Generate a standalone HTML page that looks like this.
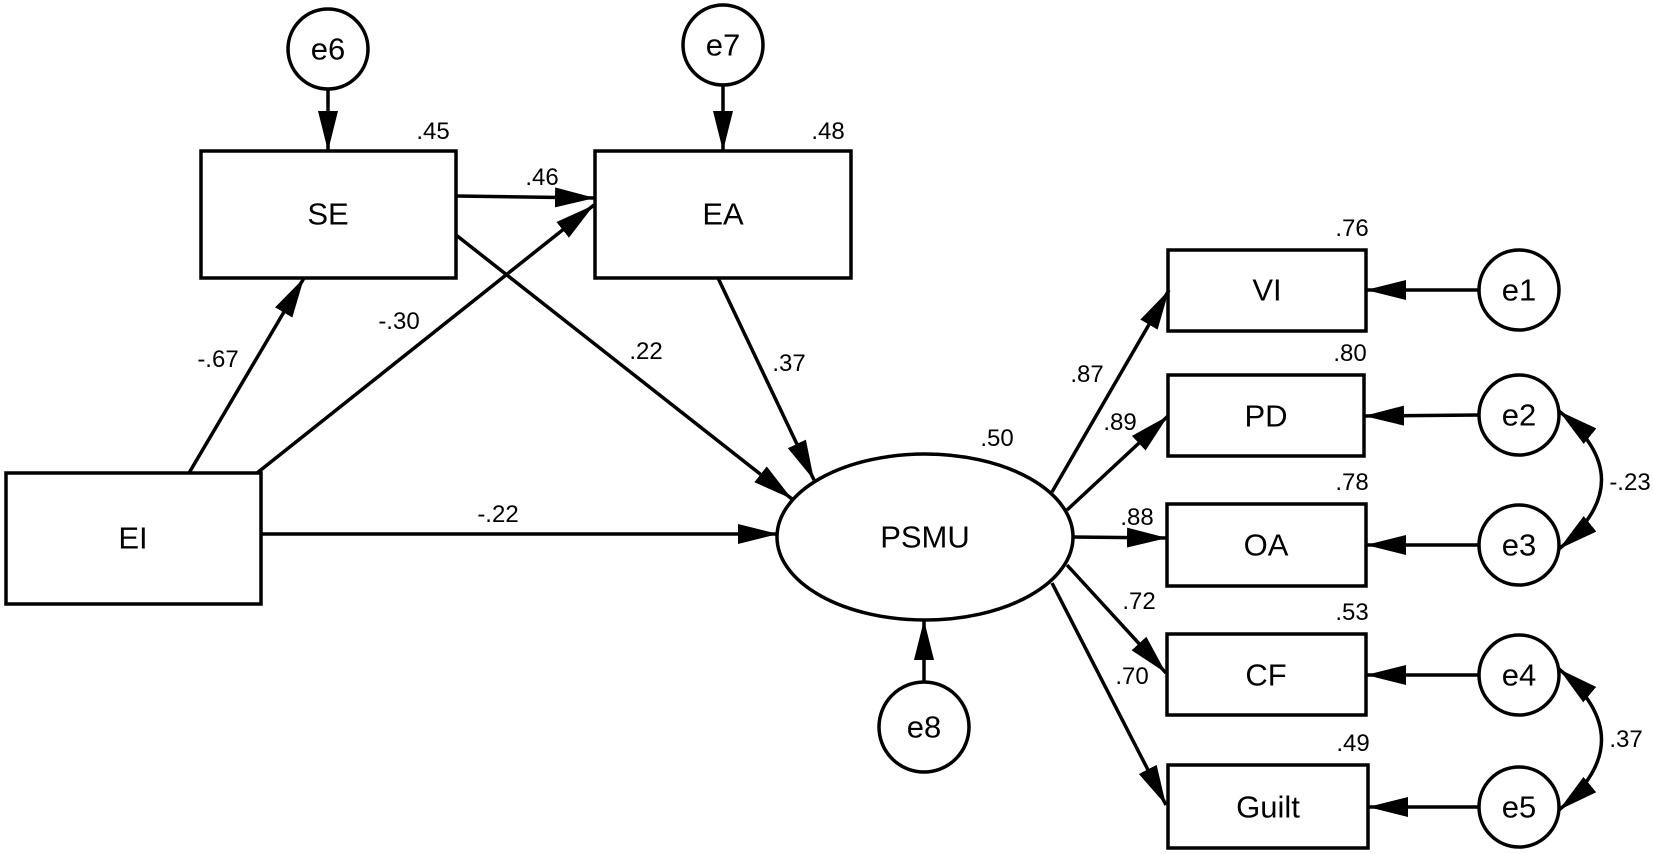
<!DOCTYPE html>
<html><head><meta charset="utf-8"><style>
html,body{margin:0;padding:0;background:#fff;}
svg{display:block;}
text{font-family:"Liberation Sans",Arial,sans-serif;fill:#000;}
.n{font-size:31px;text-anchor:middle;dominant-baseline:central;}
.l{font-size:24px;text-anchor:middle;}
</style></head><body>
<svg width="1653" height="854" viewBox="0 0 1653 854" xmlns="http://www.w3.org/2000/svg">
<defs>
<marker id="a" markerUnits="userSpaceOnUse" markerWidth="40" markerHeight="20" refX="40" refY="10" orient="auto-start-reverse"><path d="M0,0 L40,10 L0,20 z" fill="#000"/></marker>
</defs>
<g fill="none" stroke="#000" stroke-width="3.5">
<rect x="201" y="151" width="255" height="127" fill="#fff"/>
<rect x="595" y="151" width="256" height="127" fill="#fff"/>
<rect x="6" y="473" width="255" height="131" fill="#fff"/>
<rect x="1168" y="250" width="198" height="81"/>
<rect x="1168" y="375" width="196" height="81"/>
<rect x="1167" y="504" width="199" height="82"/>
<rect x="1167" y="634" width="199" height="81"/>
<rect x="1168" y="765" width="200" height="83"/>
<ellipse cx="925" cy="537" rx="148" ry="83"/>
<circle cx="328" cy="49" r="40"/>
<circle cx="723" cy="45" r="40"/>
<circle cx="924" cy="727" r="45"/>
<circle cx="1519" cy="290" r="40"/>
<circle cx="1519" cy="415" r="40"/>
<circle cx="1519" cy="545" r="40"/>
<circle cx="1519" cy="675" r="40"/>
<circle cx="1519" cy="807" r="40"/>
<g marker-end="url(#a)">
<line x1="328" y1="89" x2="328" y2="151"/>
<line x1="723" y1="85" x2="723" y2="151"/>
<line x1="456" y1="196" x2="595" y2="198"/>
<line x1="189" y1="473" x2="304" y2="278"/>
<line x1="257" y1="473" x2="594" y2="205"/>
<line x1="456" y1="235" x2="792" y2="499"/>
<line x1="718" y1="278" x2="814" y2="480"/>
<line x1="261" y1="534" x2="778" y2="534"/>
<line x1="924" y1="682" x2="924" y2="620"/>
<line x1="1052" y1="492" x2="1169" y2="290"/>
<line x1="1067" y1="510" x2="1168" y2="416"/>
<line x1="1072" y1="537" x2="1167" y2="538"/>
<line x1="1067" y1="565" x2="1166" y2="673"/>
<line x1="1052" y1="583" x2="1166" y2="805"/>
<line x1="1479" y1="290" x2="1366" y2="290"/>
<line x1="1479" y1="415" x2="1364" y2="416"/>
<line x1="1479" y1="545" x2="1366" y2="545"/>
<line x1="1479" y1="675" x2="1366" y2="675"/>
<line x1="1479" y1="807" x2="1368" y2="807"/>
</g>
<path d="M1559,411 Q1644,480 1559,549" marker-start="url(#a)" marker-end="url(#a)"/>
<path d="M1559,669 Q1644,740 1559,810" marker-start="url(#a)" marker-end="url(#a)"/>
</g>
<text class="n" x="328" y="214">SE</text>
<text class="n" x="723" y="214">EA</text>
<text class="n" x="133" y="538">EI</text>
<text class="n" x="925" y="537">PSMU</text>
<text class="n" x="1267" y="290">VI</text>
<text class="n" x="1266" y="416">PD</text>
<text class="n" x="1266" y="545">OA</text>
<text class="n" x="1266" y="675">CF</text>
<text class="n" x="1268" y="807">Guilt</text>
<text class="n" x="328" y="49">e6</text>
<text class="n" x="723" y="45">e7</text>
<text class="n" x="924" y="727">e8</text>
<text class="n" x="1519" y="290">e1</text>
<text class="n" x="1519" y="415">e2</text>
<text class="n" x="1519" y="545">e3</text>
<text class="n" x="1519" y="675">e4</text>
<text class="n" x="1519" y="807">e5</text>
<text class="l" x="433" y="139">.45</text>
<text class="l" x="828" y="139">.48</text>
<text class="l" x="542" y="185">.46</text>
<text class="l" x="218" y="367">-.67</text>
<text class="l" x="399" y="329">-.30</text>
<text class="l" x="646" y="359">.22</text>
<text class="l" x="789" y="371">.37</text>
<text class="l" x="498" y="522">-.22</text>
<text class="l" x="997" y="446">.50</text>
<text class="l" x="1087" y="382">.87</text>
<text class="l" x="1120" y="430">.89</text>
<text class="l" x="1137" y="525">.88</text>
<text class="l" x="1139" y="609">.72</text>
<text class="l" x="1132" y="684">.70</text>
<text class="l" x="1352" y="236">.76</text>
<text class="l" x="1350" y="361">.80</text>
<text class="l" x="1352" y="490">.78</text>
<text class="l" x="1352" y="620">.53</text>
<text class="l" x="1353" y="751">.49</text>
<text class="l" x="1630" y="490">-.23</text>
<text class="l" x="1626" y="747">.37</text>
</svg>
</body></html>
